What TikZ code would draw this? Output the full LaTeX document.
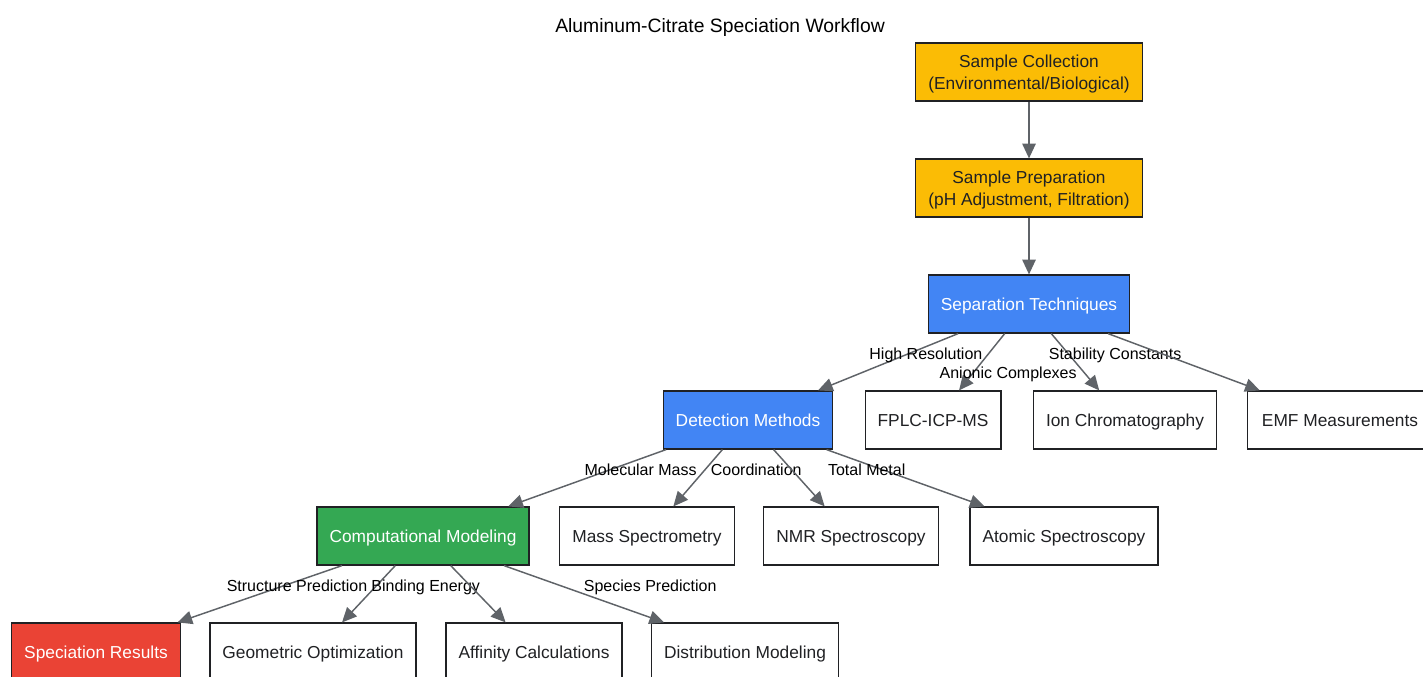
\documentclass[tikz,border=0pt]{standalone}
\usepackage{fontspec}
\setmainfont{Liberation Sans}
\usetikzlibrary{arrows.meta,calc}

\definecolor{stepOrange}{HTML}{FBBC05}
\definecolor{stepBlue}{HTML}{4285F4}
\definecolor{stepGreen}{HTML}{34A853}
\definecolor{stepRed}{HTML}{EA4335}
\definecolor{edgeGray}{HTML}{5F6368}
\definecolor{rimGray}{HTML}{202124}

\tikzset{
  box/.style={draw=rimGray, line width=0.9pt, fill=white, text=rimGray,
    inner xsep=9.4pt, minimum height=43.5pt, align=center,
    text height=11.8pt, text depth=2.8pt,
    font=\fontsize{13}{16.5}\selectfont},
  inbox/.style={box, fill=stepOrange, text height=28.3pt},
  sepbox/.style={box, fill=stepBlue, text=white},
  modbox/.style={box, fill=stepGreen, text=white},
  resbox/.style={box, fill=stepRed, text=white},
  flow/.style={draw=edgeGray, line width=1.1pt,
    -{Triangle[length=11pt,width=10pt]}},
  lbl/.style={font=\fontsize{12}{14}\selectfont, text=black, inner sep=0pt,
    text height=10.9pt, text depth=2.5pt, pos=0.33, yshift=-1.1pt},
}

\begin{document}
\begin{tikzpicture}[x=0.75pt, y=-0.75pt]
\useasboundingbox (0,0) rectangle (1423,676);
\clip (0,0) rectangle (1423,676);

\node[font=\fontsize{14.5}{17}\selectfont, text height=13.1pt, text depth=3.1pt] (title) at (720,26) {Aluminum-Citrate Speciation Workflow};

% inputs
\node[inbox] (collect) at (1029,72) {Sample Collection\\(Environmental/Biological)};
\node[inbox] (prep) at (1029,188) {Sample Preparation\\(pH Adjustment, Filtration)};
\node[sepbox] (sep) at (1029,304) {Separation Techniques};

% second level
\node[sepbox] (detect) at (748,420) {Detection Methods};
\node[box] (fplc) at (933,420) {FPLC-ICP-MS};
\node[box] (ionchrom) at (1125,420) {Ion Chromatography};
\node[box, minimum width=139pt] (emf) at (1340,420) {EMF Measurements};

% third level
\node[modbox] (compmod) at (423,536) {Computational Modeling};
\node[box] (massspec) at (647,536) {Mass Spectrometry};
\node[box] (nmr) at (851,536) {NMR Spectroscopy};
\node[box] (atomic) at (1064,536) {Atomic Spectroscopy};

% results
\node[resbox] (results) at (96,652) {Speciation Results};
\node[box] (geomopt) at (313,652) {Geometric Optimization};
\node[box] (affinity) at (534,652) {Affinity Calculations};
\node[box] (distmod) at (745,652) {Distribution Modeling};

\draw[flow] (collect) -- (prep);
\draw[flow] (prep) -- (sep);

\draw[flow] ($(sep.south west)!0.15!(sep.south east)$) -- ($(detect.north west)!0.91!(detect.north east)$)
  node[lbl, xshift=10.5pt] (lblhigh) {High Resolution};
\draw[flow] ($(sep.south west)!0.38!(sep.south east)$) -- ($(fplc.north west)!0.69!(fplc.north east)$)
  node[lbl, pos=0.67, xshift=25.5pt] (lblanion) {Anionic Complexes};
\draw[flow] ($(sep.south west)!0.61!(sep.south east)$) -- ($(ionchrom.north west)!0.36!(ionchrom.north east)$)
  node[lbl, xshift=36pt] (lblstab) {Stability Constants};
\draw[flow] ($(sep.south west)!0.89!(sep.south east)$) -- ($(emf.north west)!0.07!(emf.north east)$);

\draw[flow] ($(detect.south west)!0.02!(detect.south east)$) -- ($(compmod.north west)!0.90!(compmod.north east)$)
  node[lbl, xshift=20pt] (lblmol) {Molecular Mass};
\draw[flow] ($(detect.south west)!0.35!(detect.south east)$) -- ($(massspec.north west)!0.65!(massspec.north east)$)
  node[lbl, xshift=37.5pt] (lblcoord) {Coordination};
\draw[flow] ($(detect.south west)!0.65!(detect.south east)$) -- ($(nmr.north west)!0.35!(nmr.north east)$);
\draw[flow] ($(detect.south west)!0.96!(detect.south east)$) -- ($(atomic.north west)!0.08!(atomic.north east)$)
  node[lbl, xshift=-9pt] (lbltotal) {Total Metal};

\draw[flow] ($(compmod.south west)!0.12!(compmod.south east)$) -- ($(results.north west)!0.98!(results.north east)$)
  node[lbl, xshift=7pt] (lblstruct) {Structure Prediction};
\draw[flow] ($(compmod.south west)!0.37!(compmod.south east)$) -- ($(geomopt.north west)!0.64!(geomopt.north east)$)
  node[lbl, xshift=36pt] (lblbind) {Binding Energy};
\draw[flow] ($(compmod.south west)!0.63!(compmod.south east)$) -- ($(affinity.north west)!0.34!(affinity.north east)$);
\draw[flow] ($(compmod.south west)!0.88!(compmod.south east)$) -- ($(distmod.north west)!0.07!(distmod.north east)$)
  node[lbl, xshift=70pt] (lblspec) {Species Prediction};
\end{tikzpicture}
\end{document}
